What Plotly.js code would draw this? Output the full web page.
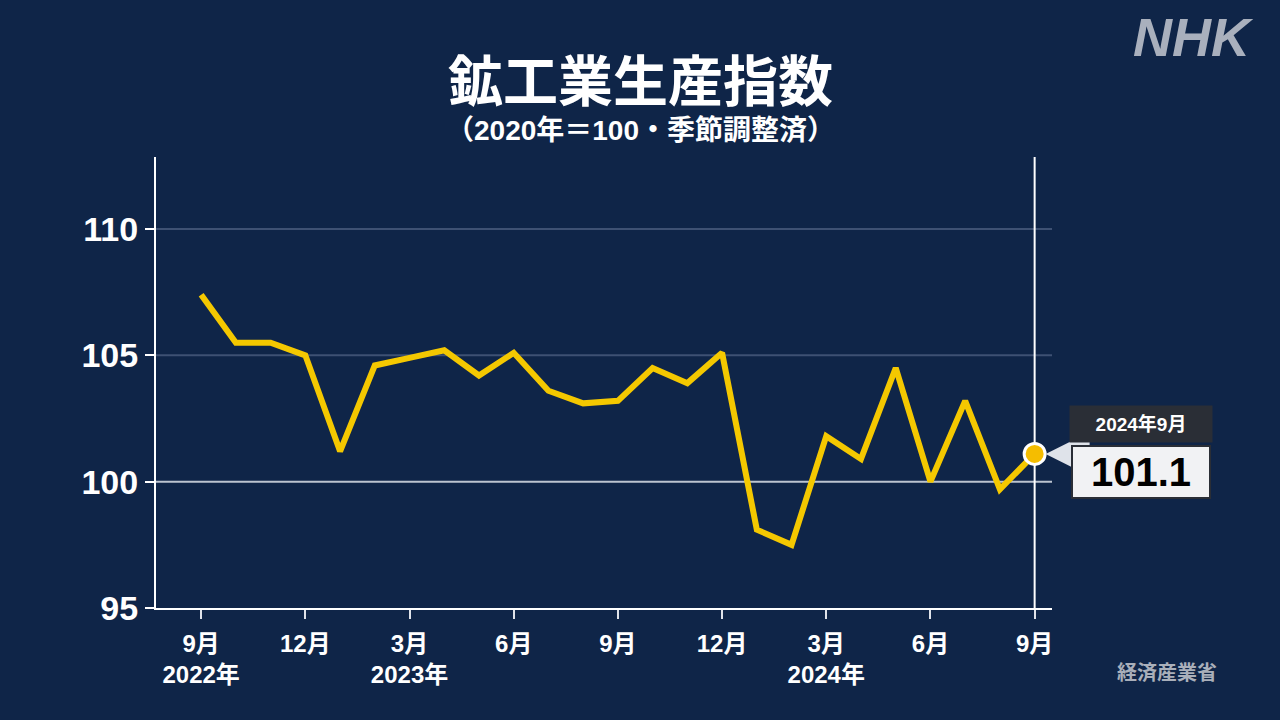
<!DOCTYPE html>
<html>
<head>
<meta charset="utf-8">
<script src="https://cdn.plot.ly/plotly-3.0.1.min.js"></script>
<style>
html,body{margin:0;padding:0;background:#0f2548;}
#chart{width:1280px;height:720px;}
</style>
</head>
<body>
<div id="chart"></div>
<script>
// Monthly categories (2022-09 .. 2024-09)
const months = ["2022-09","2022-10","2022-11","2022-12","2023-01","2023-02","2023-03","2023-04","2023-05","2023-06","2023-07","2023-08","2023-09","2023-10","2023-11","2023-12","2024-01","2024-02","2024-03","2024-04","2024-05","2024-06","2024-07","2024-08","2024-09"];
// Index of industrial production (2020=100, seasonally adjusted)
const values = [107.4,105.5,105.5,105.0,101.2,104.6,104.9,105.2,104.2,105.1,103.6,103.1,103.2,104.5,103.9,105.1,98.1,97.5,101.8,100.9,104.5,100.0,103.2,99.7,101.1];
// Axis ticks
const xTickVals = ["2022-09","2022-12","2023-03","2023-06","2023-09","2023-12","2024-03","2024-06","2024-09"];
const xTickText = ["9月<br>2022年","12月","3月<br>2023年","6月","9月","12月","3月<br>2024年","6月","9月"];
const yTickVals = [95,100,105,110];
const yTickText = ["95","100","105","110"];
const faintGrid = [105,110];
const refLine = 100;
const lastLabel = "2024年9月";

const FONT = "Liberation Sans, Arial, 'Noto Sans CJK JP', sans-serif";
const lastX = months[months.length-1];
const lastY = values[values.length-1];

const traces = [
  {x: months, y: values, type: "scatter", mode: "lines",
   line: {color: "#f4c800", width: 6}, hoverinfo: "skip"},
  {x: [lastX], y: [lastY], type: "scatter", mode: "markers",
   marker: {size: 21, color: "#f5bd00", line: {color: "#ffffff", width: 3}}, hoverinfo: "skip"}
];

const gridShapes = faintGrid.map(v => ({type: "line", xref: "paper", x0: 0, x1: 1, yref: "y", y0: v, y1: v,
  line: {color: "#3e5173", width: 2}, layer: "below"}));

const plotCenter = 156 + (1280 - 156 - 228) / 2;
const layout = {
  width: 1280, height: 720,
  paper_bgcolor: "#0f2548", plot_bgcolor: "#0f2548",
  showlegend: false,
  margin: {l: 156, r: 228, t: 157, b: 112},
  font: {family: FONT, color: "#ffffff"},
  xaxis: {
    type: "category", categoryorder: "array", categoryarray: months,
    range: [-1.3, 24.5],
    tickmode: "array", tickvals: xTickVals, ticktext: xTickText,
    ticks: "outside", ticklen: 9, tickwidth: 2, tickcolor: "#dfe3ea",
    showline: true, linecolor: "#ffffff", linewidth: 2,
    showgrid: false, zeroline: false,
    tickfont: {family: FONT, size: 24, color: "#ffffff", weight: "bold"},
    ticklabelstandoff: 4
  },
  yaxis: {
    range: [95, 112.85],
    tickmode: "array", tickvals: yTickVals, ticktext: yTickText,
    ticks: "outside", ticklen: 9, tickwidth: 2, tickcolor: "#ffffff",
    showline: true, linecolor: "#ffffff", linewidth: 2,
    showgrid: false, zeroline: false,
    tickfont: {family: FONT, size: 34, color: "#ffffff", weight: "bold"},
    ticklabelstandoff: 0
  },
  shapes: gridShapes.concat([
    {type: "line", xref: "paper", x0: 0, x1: 1, yref: "y", y0: refLine, y1: refLine,
     line: {color: "#bcc4d0", width: 2}, layer: "below"},
    {type: "line", xref: "x", x0: lastX, x1: lastX, yref: "paper", y0: 0, y1: 1,
     line: {color: "#ffffff", width: 2}, layer: "below"}
  ]),
  annotations: [
    {text: "鉱工業生産指数", xref: "paper", yref: "paper", x: 0.5, y: 1, xanchor: "center", yanchor: "middle",
     showarrow: false, font: {family: FONT, size: 55, color: "#ffffff", weight: "bold"},
     xshift: 640 - plotCenter, yshift: 157-82},
    {text: "（2020年＝100・季節調整済）", xref: "paper", yref: "paper", x: 0.5, y: 1, xanchor: "center", yanchor: "middle",
     showarrow: false, font: {family: FONT, size: 28, color: "#ffffff", weight: "bold"},
     xshift: 640 - plotCenter, yshift: 157-130},
    {text: "<i>NHK</i>", xref: "paper", yref: "paper", x: 1, y: 1, xanchor: "right", yanchor: "middle",
     showarrow: false, font: {family: FONT, size: 54, color: "#a9b0bd", weight: "bold"},
     xshift: 228-24, yshift: 157-37},
    {text: "経済産業省", xref: "paper", yref: "paper", x: 1, y: 0, xanchor: "center", yanchor: "middle",
     showarrow: false, font: {family: FONT, size: 20, color: "#a9afba", weight: "bold"},
     xshift: 1167-1052, yshift: -(673-608)},
    {text: "", x: lastX, y: lastY, xref: "x", yref: "y", showarrow: true,
     ax: 38, ay: 0, arrowhead: 2, arrowsize: 2.2, arrowwidth: 4, arrowcolor: "#dfe3ea", standoff: 11},
    {text: "<b>" + lastLabel + "</b>", x: lastX, y: lastY, xref: "x", yref: "y", showarrow: false,
     xanchor: "center", yanchor: "middle", xshift: 106, yshift: 30,
     width: 140, height: 34, bgcolor: "#2a2e36",
     font: {family: FONT, size: 19, color: "#ffffff"}},
    {text: "<b>" + lastY.toFixed(1) + "</b>", x: lastX, y: lastY, xref: "x", yref: "y", showarrow: false,
     xanchor: "center", yanchor: "middle", xshift: 106, yshift: -18,
     width: 134, height: 48, bgcolor: "#f1f2f4", bordercolor: "#2a2e36", borderwidth: 2,
     font: {family: FONT, size: 40, color: "#000000"}}
  ]
};

Plotly.newPlot("chart", traces, layout, {staticPlot: true, displayModeBar: false});
</script>
</body>
</html>
